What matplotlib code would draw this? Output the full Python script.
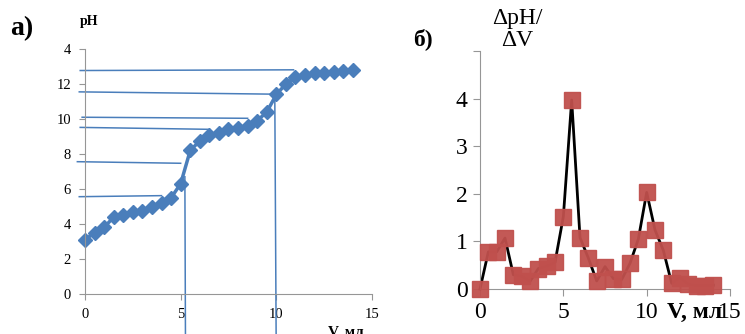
import matplotlib.pyplot as plt

plt.rcParams['font.family'] = ['Liberation Serif', 'DejaVu Serif']

# titration curve (a)
volume = [0, 0.5, 1, 1.5, 2, 2.5, 3, 3.5, 4, 4.5, 5, 5.5, 6, 6.5, 7,
          7.5, 8, 8.5, 9, 9.5, 10, 10.5, 11, 11.5, 12, 12.5, 13, 13.5, 14]
ph = [3.1, 3.5, 3.8, 4.4, 4.5, 4.7, 4.75, 4.95, 5.2, 5.5, 6.3, 8.2, 8.75, 9.1, 9.2,
      9.4, 9.5, 9.6, 9.9, 10.4, 11.4, 12.0, 12.4, 12.5, 12.6, 12.65, 12.7, 12.75, 12.8]

# first derivative (б)
dph_dv = [0, 0.78, 0.78, 1.07, 0.3, 0.27, 0.16, 0.43, 0.48, 0.56, 1.52, 3.97, 1.08,
          0.65, 0.17, 0.47, 0.22, 0.2, 0.54, 1.05, 2.03, 1.24, 0.81, 0.12, 0.24,
          0.1, 0.07, 0.07, 0.08]

# helper lines: (x_start, y_start, x_end, y_end)
h_lines = [(-0.25, 12.77, 10.9, 12.81),
           (-0.3, 11.55, 9.8, 11.42),
           (-0.15, 10.1, 8.5, 10.04),
           (-0.25, 9.52, 6.5, 9.41),
           (-0.4, 7.56, 5.0, 7.47),
           (-0.3, 5.56, 4.0, 5.62)]
v_lines = [(5.22, 6.7, 5.25, -2.3),
           (9.92, 11.4, 9.99, -2.3)]

blue = '#4a7ebb'
red = '#c0504d'
grey = '#969696'

fig = plt.figure(figsize=(7.45, 3.34), dpi=100)

# ---- left panel
ax1 = fig.add_axes([0.1141, 0.1198, 0.3852, 0.7335])
for x0, y0, x1, y1 in h_lines + v_lines:
    ax1.plot([x0, x1], [y0, y1], color=blue, lw=1.1, clip_on=False)
ax1.plot(volume, ph, color=blue, lw=2.5, marker='D', markersize=7, clip_on=False)
ax1.set_xlim(0, 15)
ax1.set_ylim(0, 14)
ax1.set_xticks([0, 5, 10, 15])
ax1.set_yticks([0, 2, 4, 6, 8, 10, 12, 14])
ax1.set_yticklabels(['0', '2', '4', '6', '8', '10', '12', '4'])
ax1.tick_params(labelsize=10.5, length=4, color=grey, pad=6)
for s in ['top', 'right']:
    ax1.spines[s].set_visible(False)
for s in ['left', 'bottom']:
    ax1.spines[s].set_color(grey)
fig.text(0.013, 0.895, 'а)', fontsize=20, fontweight='bold')
fig.text(0.107, 0.925, 'pH', fontsize=10, fontweight='bold')
fig.text(0.44, -0.005, 'V, мл', fontsize=11, fontweight='bold')

# ---- right panel
ax2 = fig.add_axes([0.6443, 0.1347, 0.3356, 0.7126])
ax2.plot(volume, dph_dv, color='black', lw=2, zorder=2, clip_on=False)
ax2.plot(volume, dph_dv, ls='none', marker='s', markersize=11, color=red,
         alpha=0.95, zorder=3, clip_on=False)
ax2.set_xlim(0, 15)
ax2.set_ylim(0, 5)
ax2.set_xticks([0, 5, 10, 15])
ax2.set_yticks([0, 1, 2, 3, 4, 5])
ax2.set_yticklabels(['0', '1', '2', '3', '4', ''])
ax2.tick_params(labelsize=17, length=5, color=grey, pad=4)
for s in ['top', 'right']:
    ax2.spines[s].set_visible(False)
for s in ['left', 'bottom']:
    ax2.spines[s].set_color(grey)
fig.text(0.554, 0.865, 'б)', fontsize=17, fontweight='bold')
fig.text(0.694, 0.975, 'ΔpH/\nΔV', fontsize=17, ha='center', va='top',
         linespacing=1.05)
fig.text(0.895, 0.048, 'V, мл', fontsize=17, fontweight='bold')

fig.savefig('out.png', dpi=100)
